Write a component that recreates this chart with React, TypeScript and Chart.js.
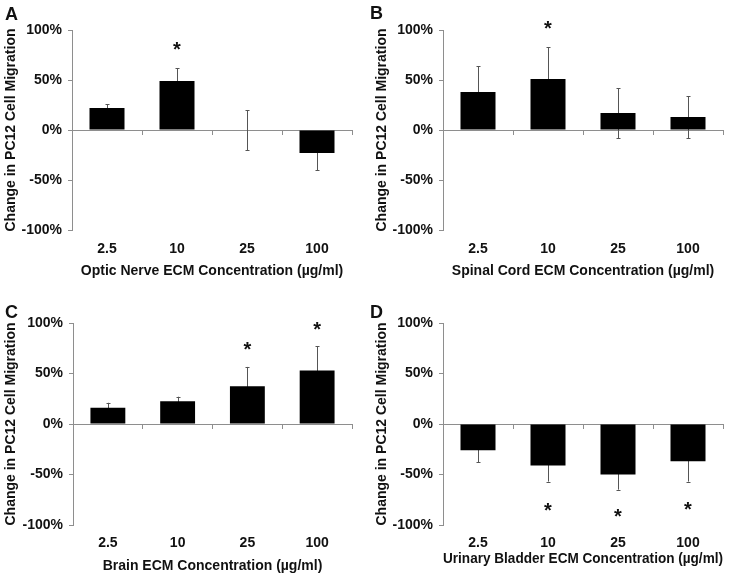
import React, { useEffect, useRef } from 'react';
import { Chart, registerables } from 'chart.js';

Chart.register(...registerables);

// ---------- data ----------
const concentrations = ['2.5', '10', '25', '100'];

const opticMeans = [22, 49, 0, -23];
const opticErrors = [4, 13, 20, 17];
const opticStars: (number | null)[] = [null, 84, null, null];

const spinalMeans = [38, 51, 17, 13];
const spinalErrors = [26, 32, 25, 21];
const spinalStars: (number | null)[] = [null, 105, null, null];

const brainMeans = [16, 22.5, 37.5, 53];
const brainErrors = [5, 4.5, 19, 24];
const brainStars: (number | null)[] = [null, null, 77, 97];

const bladderMeans = [-26, -41, -50, -37];
const bladderErrors = [12, 16, 15, 20];
const bladderStars: (number | null)[] = [null, -82, -88, -81];

const yMin = -100;
const yMax = 100;
const yStep = 50;
const yTitle = 'Change in PC12 Cell Migration';

// ---------- styles ----------
const FAMILY = '"Liberation Sans", Arial, Helvetica, sans-serif';
const TEXT = '#111111';
const AXIS = '#8e8e8e';
const ERR = '#555555';

type Frame = {
  w: number; h: number;
  yWidth: number; top: number; right: number; xHeight: number;
  yTitlePad: number; xTickPad: number; xTitlePad: number;
  letterX: number; letterY: number;
};

type PanelProps = {
  letter: string;
  means: number[];
  errors: number[];
  stars: (number | null)[];
  xTitle: string;
  frame: Frame;
};

function Panel({ letter, means, errors, stars, xTitle, frame }: PanelProps) {
  const ref = useRef<HTMLCanvasElement | null>(null);

  useEffect(() => {
    if (!ref.current) return;

    const errorBars = {
      id: 'errorBars',
      beforeDatasetsDraw(chart: any) {
        const { ctx } = chart;
        const xs = chart.scales.x;
        const ys = chart.scales.y;
        ctx.save();
        ctx.strokeStyle = ERR;
        ctx.lineWidth = 1;
        means.forEach((m, i) => {
          const e = errors[i];
          const x = Math.round(xs.getPixelForValue(i)) + 0.5;
          const y1 = ys.getPixelForValue(m + e);
          const y2 = ys.getPixelForValue(m - e);
          ctx.beginPath();
          ctx.moveTo(x, y1);
          ctx.lineTo(x, y2);
          ctx.moveTo(x - 2, Math.round(y1) + 0.5);
          ctx.lineTo(x + 2, Math.round(y1) + 0.5);
          ctx.moveTo(x - 2, Math.round(y2) + 0.5);
          ctx.lineTo(x + 2, Math.round(y2) + 0.5);
          ctx.stroke();
        });
        ctx.restore();
      },
    };

    const starMarks = {
      id: 'starMarks',
      afterDatasetsDraw(chart: any) {
        const { ctx } = chart;
        const xs = chart.scales.x;
        const ys = chart.scales.y;
        ctx.save();
        ctx.fillStyle = TEXT;
        ctx.font = `bold 20px ${FAMILY}`;
        ctx.textAlign = 'center';
        ctx.textBaseline = 'alphabetic';
        const mt = ctx.measureText('*');
        const a = mt.actualBoundingBoxAscent || 14;
        const d = mt.actualBoundingBoxDescent || -8;
        stars.forEach((s, i) => {
          if (s === null) return;
          const x = xs.getPixelForValue(i);
          const y = ys.getPixelForValue(s);
          ctx.fillText('*', x, y + (a - d) / 2);
        });
        ctx.restore();
      },
    };

    const panelLetter = {
      id: 'panelLetter',
      afterDraw(chart: any) {
        const { ctx } = chart;
        ctx.save();
        ctx.fillStyle = TEXT;
        ctx.font = `bold 18px ${FAMILY}`;
        ctx.textAlign = 'left';
        ctx.textBaseline = 'alphabetic';
        ctx.fillText(letter, frame.letterX, frame.letterY);
        ctx.restore();
      },
    };

    const tickFont = { family: FAMILY, size: 14, weight: 'bold' as const };
    const titleFont = { family: FAMILY, size: 14, weight: 'bold' as const };

    const chart = new Chart(ref.current, {
      type: 'bar',
      data: {
        labels: concentrations,
        datasets: [
          {
            data: means,
            backgroundColor: '#000000',
            borderWidth: 0,
            barPercentage: 0.5,
            categoryPercentage: 1,
          },
        ],
      },
      options: {
        animation: false,
        responsive: false,
        maintainAspectRatio: false,
        layout: { padding: { top: frame.top, right: frame.right, left: 0, bottom: 0 } },
        plugins: { legend: { display: false }, tooltip: { enabled: false } },
        scales: {
          x: {
            type: 'category',
            position: 'bottom',
            offset: true,
            grid: { display: false, drawTicks: false },
            border: { display: false },
            ticks: {
              font: tickFont,
              color: TEXT,
              padding: frame.xTickPad,
              maxRotation: 0,
              autoSkip: false,
            },
            title: {
              display: true,
              text: xTitle,
              font: titleFont,
              color: TEXT,
              padding: { top: 0, bottom: frame.xTitlePad },
            },
            afterFit: (s: any) => {
              s.height = frame.xHeight;
            },
          },
          x2: {
            type: 'category',
            axis: 'x',
            position: { y: 0 },
            offset: true,
            grid: {
              offset: true,
              drawOnChartArea: false,
              drawTicks: true,
              tickLength: 4,
              color: AXIS,
            },
            border: { display: true, color: AXIS, width: 1 },
            ticks: { display: false },
          },
          y: {
            type: 'linear',
            position: 'left',
            min: yMin,
            max: yMax,
            grid: { drawOnChartArea: false, drawTicks: true, tickLength: 4, color: AXIS },
            border: { display: true, color: AXIS, width: 1 },
            ticks: {
              stepSize: yStep,
              font: tickFont,
              color: TEXT,
              padding: 6,
              callback: (v: any) => `${v}%`,
            },
            title: {
              display: true,
              text: yTitle,
              font: titleFont,
              color: TEXT,
              padding: { top: frame.yTitlePad, bottom: 0 },
            },
            afterFit: (s: any) => {
              s.width = frame.yWidth;
            },
          },
        } as any,
      },
      plugins: [errorBars, starMarks, panelLetter],
    });

    return () => chart.destroy();
  }, [letter, means, errors, stars, xTitle, frame]);

  return <canvas ref={ref} width={frame.w} height={frame.h} style={{ display: 'block' }} />;
}

const frameA: Frame = { w: 364, h: 280, yWidth: 72, top: 30, right: 12, xHeight: 50, yTitlePad: 3, xTickPad: 11, xTitlePad: 0, letterX: 5, letterY: 20 };
const frameB: Frame = { w: 364, h: 280, yWidth: 78, top: 30, right: 6, xHeight: 50, yTitlePad: 9, xTickPad: 11, xTitlePad: 0, letterX: 5, letterY: 19 };
const frameC: Frame = { w: 364, h: 300, yWidth: 73, top: 43, right: 12, xHeight: 55, yTitlePad: 3, xTickPad: 10, xTitlePad: 5, letterX: 5, letterY: 38 };
const frameD: Frame = { w: 364, h: 300, yWidth: 78, top: 43, right: 6, xHeight: 55, yTitlePad: 9, xTickPad: 10, xTitlePad: 12, letterX: 5, letterY: 38 };

export default function App() {
  return (
    <div style={{ position: 'absolute', left: 0, top: 0, width: 729, height: 580, background: '#ffffff', overflow: 'hidden' }}>
      <div style={{ position: 'absolute', left: 0, top: 0 }}>
        <Panel letter="A" means={opticMeans} errors={opticErrors} stars={opticStars} xTitle="Optic Nerve ECM Concentration (µg/ml)" frame={frameA} />
      </div>
      <div style={{ position: 'absolute', left: 365, top: 0 }}>
        <Panel letter="B" means={spinalMeans} errors={spinalErrors} stars={spinalStars} xTitle="Spinal Cord ECM Concentration (µg/ml)" frame={frameB} />
      </div>
      <div style={{ position: 'absolute', left: 0, top: 280 }}>
        <Panel letter="C" means={brainMeans} errors={brainErrors} stars={brainStars} xTitle="Brain ECM Concentration (µg/ml)" frame={frameC} />
      </div>
      <div style={{ position: 'absolute', left: 365, top: 280 }}>
        <Panel letter="D" means={bladderMeans} errors={bladderErrors} stars={bladderStars} xTitle="Urinary Bladder ECM Concentration (µg/ml)" frame={frameD} />
      </div>
    </div>
  );
}
